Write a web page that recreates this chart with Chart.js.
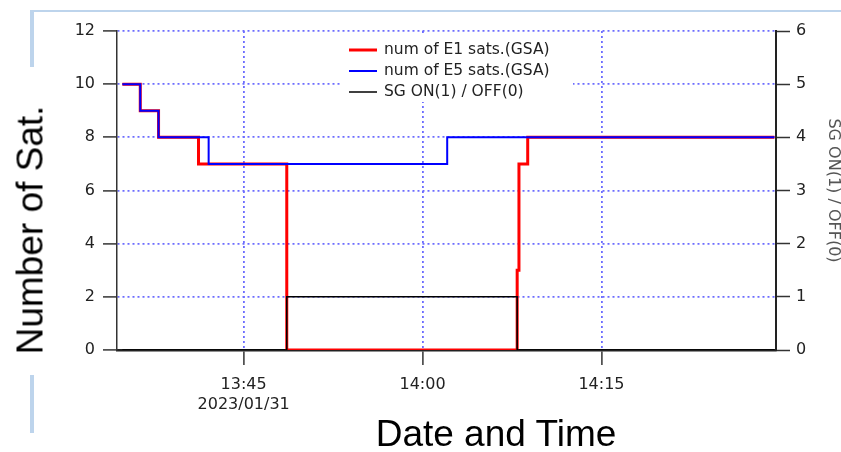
<!DOCTYPE html>
<html>
<head>
<meta charset="utf-8">
<script src="https://cdn.jsdelivr.net/npm/chart.js@4.4.1/dist/chart.umd.min.js"></script>
<style>
  html, body { margin: 0; padding: 0; background: #fff; }
  #wrap { position: relative; width: 841px; height: 452px; overflow: hidden; }
  #chart { position: absolute; left: 0; top: 0; }
  .deco { position: absolute; background: #bdd4ec; }
  .title {
    position: absolute;
    font-family: "Liberation Sans", Arial, sans-serif;
    font-size: 37px;
    line-height: 1;
    color: #000;
    white-space: nowrap;
    transform: translate(-50%, -50%);
  }
</style>
</head>
<body>
<div id="wrap">
  <div class="deco" style="left:30px;top:10px;width:811px;height:2px"></div>
  <div class="deco" style="left:30px;top:10px;width:4px;height:57px"></div>
  <div class="deco" style="left:30px;top:375px;width:4px;height:58px"></div>
  <canvas id="chart" width="841" height="452"></canvas>
  <div class="title" style="left:30px;top:230px;transform:translate(-50%,-50%) rotate(-90deg)">Number of Sat.</div>
  <div class="title" style="left:496px;top:433px">Date and Time</div>
</div>

<script>
// Axis range and tick labels
const axisStart = '13:34:23';
const axisEnd = '14:29:38';
const xTickTimes = ['13:45', '14:00', '14:15'];
const dateLabel = '2023/01/31';

// num of E1 sats (time when the value changes, new value)
const e1Times = ['13:34:50', '13:36:20', '13:37:52', '13:41:13', '13:48:37', '14:07:56', '14:08:05', '14:08:49', '14:29:30'];
const e1Counts = [10, 9, 8, 7, 0, 3, 7, 8, 8];

// num of E5 sats
const e5Times = ['13:34:50', '13:36:20', '13:37:52', '13:42:04', '14:02:04', '14:29:30'];
const e5Counts = [10, 9, 8, 7, 8, 8];

// SG on/off
const sgTimes = ['13:34:50', '13:48:37', '14:07:56', '14:29:30'];
const sgState = [0, 1, 0, 0];

const gridBlue = '#6c6cff';
const tickFont = { family: 'DejaVu Sans', size: 16 };

function toMin(t) {
    const p = t.split(':').map(Number);
    return p[0] * 60 + p[1] + (p[2] || 0) / 60;
}

function fmt(v) {
    const h = Math.floor(v / 60);
    const m = Math.round(v - h * 60);
    return h + ':' + String(m).padStart(2, '0');
}

function points(times, vals) {
    return times.map((t, i) => ({ x: toMin(t), y: vals[i] }));
}

// legend drawn inside the plot, on a white box
const legendBox = {
    id: 'legendBox',
    afterDatasetsDraw(chart) {
        const ctx = chart.ctx;
        ctx.save();
        ctx.fillStyle = '#fff';
        ctx.fillRect(340, 36, 233, 66);
        ctx.font = '15.5px "DejaVu Sans"';
        ctx.textBaseline = 'middle';
        chart.data.datasets.forEach((ds, i) => {
            const y = 50 + i * 21;
            ctx.strokeStyle = ds.borderColor;
            ctx.lineWidth = ds.borderWidth;
            ctx.beginPath();
            ctx.moveTo(349, y);
            ctx.lineTo(377, y);
            ctx.stroke();
            ctx.fillStyle = '#222';
            ctx.fillText(ds.label, 384, y);
        });
        ctx.restore();
    }
};

const chart = new Chart(document.getElementById('chart'), {
    type: 'line',
    data: {
        datasets: [{
            label: 'num of E1 sats.(GSA)',
            data: points(e1Times, e1Counts),
            borderColor: '#ff0000',
            borderWidth: 3,
            stepped: true,
            pointRadius: 0,
            yAxisID: 'y',
            order: 3
        }, {
            label: 'num of E5 sats.(GSA)',
            data: points(e5Times, e5Counts),
            borderColor: '#0000ff',
            borderWidth: 2,
            stepped: true,
            pointRadius: 0,
            yAxisID: 'y',
            order: 2
        }, {
            label: 'SG ON(1) / OFF(0)',
            data: points(sgTimes, sgState),
            borderColor: '#000000',
            borderWidth: 1.5,
            stepped: true,
            pointRadius: 0,
            yAxisID: 'y2',
            order: 1
        }]
    },
    options: {
        responsive: false,
        animation: false,
        layout: { padding: { top: 31, left: 0, right: 0, bottom: 0 } },
        plugins: {
            legend: { display: false },
            tooltip: { enabled: false }
        },
        scales: {
            x: {
                type: 'linear',
                min: toMin(axisStart),
                max: toMin(axisEnd),
                afterBuildTicks: s => { s.ticks = xTickTimes.map(t => ({ value: toMin(t) })); },
                afterFit: s => { s.height = 102; },
                ticks: {
                    autoSkip: false,
                    maxRotation: 0,
                    color: '#222',
                    font: { family: 'DejaVu Sans', size: 16, lineHeight: 1.3 },
                    padding: 9,
                    callback: v => fmt(v) === xTickTimes[0] ? [fmt(v), dateLabel] : fmt(v)
                },
                grid: {
                    color: gridBlue,
                    lineWidth: 1.8,
                    tickColor: '#333',
                    tickLength: 15,
                    tickWidth: 1.5,
                    tickBorderDash: []
                },
                border: { color: '#222', width: 2.5, dash: [2, 3] }
            },
            y: {
                position: 'left',
                min: 0,
                max: 12,
                afterFit: s => { s.width = 117; },
                ticks: { stepSize: 2, color: '#222', font: tickFont, padding: 8 },
                grid: {
                    color: c => (c.tick && c.tick.value === 0) ? 'rgba(0,0,0,0)' : gridBlue,
                    lineWidth: 1.8,
                    tickColor: '#333',
                    tickLength: 14,
                    tickWidth: 1.5,
                    tickBorderDash: []
                },
                border: { color: '#333', width: 1.5, dash: [2, 3] }
            },
            y2: {
                position: 'right',
                min: 0,
                max: 6,
                afterFit: s => { s.width = 65; },
                ticks: { stepSize: 1, color: '#222', font: tickFont, padding: 6 },
                grid: {
                    drawOnChartArea: false,
                    tickColor: '#333',
                    tickLength: 14,
                    tickWidth: 1.5
                },
                border: { color: '#222', width: 2 },
                title: {
                    display: true,
                    text: 'SG ON(1) / OFF(0)',
                    color: '#555',
                    font: { family: 'DejaVu Sans', size: 16, lineHeight: 1 },
                    padding: 0
                }
            }
        }
    },
    plugins: [legendBox]
});
</script>
</body>
</html>
